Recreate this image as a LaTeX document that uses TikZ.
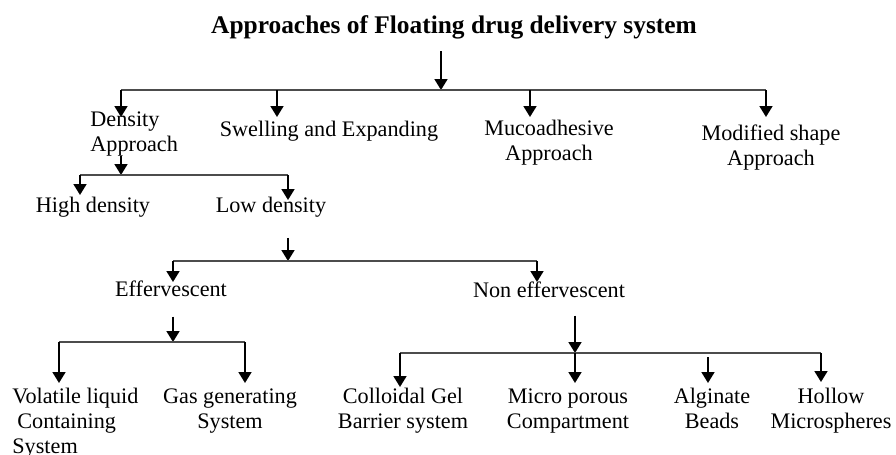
\documentclass[tikz,border=0pt]{standalone}
\usepackage{fontspec}
\setmainfont{Liberation Serif}
\usetikzlibrary{arrows.meta}
\tikzset{
	arr/.style={-{Triangle[length=5.5pt,width=6.5pt]},line width=0.9pt},
	bar/.style={line width=0.6pt,black!70},
	lbl/.style={inner sep=0pt,align=center,anchor=north,font=\fontsize{11.1}{12.5}\selectfont}
}

\begin{document}
\begin{tikzpicture}[x=0.5pt,y=-0.5pt]
	\useasboundingbox (0,0) rectangle (896,455);
	\node[lbl,anchor=base,font=\fontsize{12.7}{15}\selectfont\bfseries] (title) at (454,33) {Approaches of Floating drug delivery system};
	\node[lbl,align=left,anchor=north west] (dens) at (90,111) {Density\\Approach};
	\node[lbl] (swell) at (329,121) {Swelling and Expanding};
	\node[lbl] (muco) at (549,120) {Mucoadhesive\\Approach};
	\node[lbl] (mod) at (771,124) {Modified shape\\Approach};
	\node[lbl] (high) at (93,197) {High density};
	\node[lbl] (low) at (271,197) {Low density};
	\node[lbl] (eff) at (171,280) {Effervescent};
	\node[lbl] (non) at (549,281) {Non effervescent};
	\node[lbl,align=left,anchor=north west] (vol) at (12,388) {Volatile liquid\\\hspace{2.5pt}Containing\\System};
	\node[lbl] (gas) at (230,388) {Gas generating\\System};
	\node[lbl] (coll) at (403,388) {Colloidal Gel\\Barrier system};
	\node[lbl] (micro) at (568,388) {Micro porous\\Compartment};
	\node[lbl] (alg) at (712,388) {Alginate\\Beads};
	\node[lbl] (hol) at (831,388) {Hollow\\Microspheres};

	\coordinate (j1) at (441,90);
	\coordinate (tD) at (121,117);
	\coordinate (tS) at (277,117);
	\coordinate (tMu) at (530,117);
	\coordinate (tMo) at (766,117);
	\draw[arr,shorten <=6pt] (title.south -| j1) -- (j1);
	\draw[bar] (tD |- j1) -- (tMo |- j1);
	\foreach \t in {tD,tS,tMu,tMo} \draw[arr] (\t |- j1) -- (\t);

	\coordinate (j2) at (121,175);
	\coordinate (tH) at (80,195);
	\coordinate (tL) at (288,200);
	\draw[arr] (dens.south -| j2) -- (j2);
	\draw[bar] (tH |- j2) -- (tL |- j2);
	\foreach \t in {tH,tL} \draw[arr] (\t |- j2) -- (\t);

	\coordinate (j3) at (288,261);
	\coordinate (tE) at (173,282);
	\coordinate (tN) at (537,282);
	\draw[arr,shorten <=10pt] (low.south -| j3) -- (j3);
	\draw[bar] (tE |- j3) -- (tN |- j3);
	\foreach \t in {tE,tN} \draw[arr] (\t |- j3) -- (\t);

	\coordinate (j4) at (173,342);
	\coordinate (tV) at (59,383);
	\coordinate (tG) at (245,383);
	\draw[arr,shorten <=10pt] (eff.south -| j4) -- (j4);
	\draw[bar] (tV |- j4) -- (tG |- j4);
	\foreach \t in {tV,tG} \draw[arr] (\t |- j4) -- (\t);

	\coordinate (j5) at (575,353);
	\coordinate (tC) at (400,387);
	\coordinate (tMP) at (575,383);
	\coordinate (tA) at (708,383);
	\coordinate (tHo) at (821,382);
	\draw[arr,shorten <=9pt] (non.south -| j5) -- (j5);
	\draw[bar] (tC |- j5) -- (tHo |- j5);
	\foreach \t in {tC,tMP,tHo} \draw[arr] (\t |- j5) -- (\t);
	\draw[arr,shorten <=2pt] (tA |- j5) -- (tA);
\end{tikzpicture}
\end{document}
